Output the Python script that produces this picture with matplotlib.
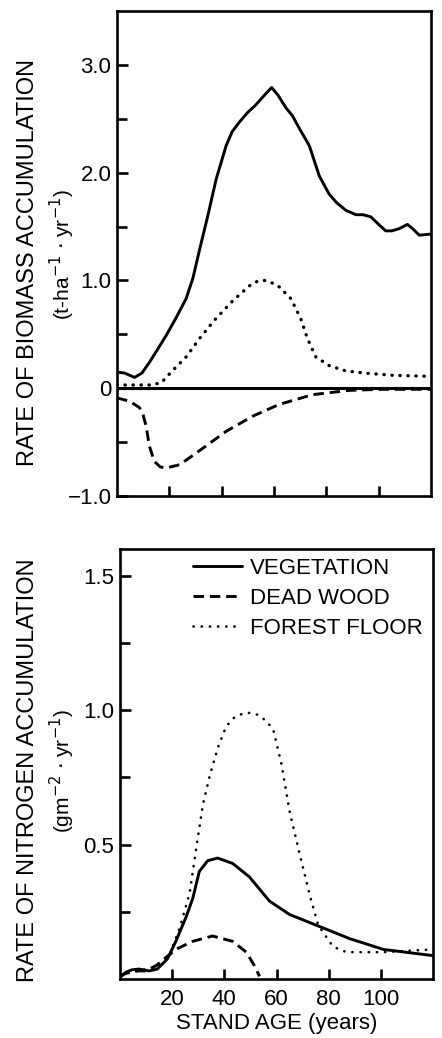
import matplotlib.pyplot as plt
import numpy as np

plt.rcParams['font.family'] = ['Liberation Sans', 'DejaVu Sans']

# biomass accumulation (t/ha/yr)
bio_veg_age = [0, 3, 6.7, 9.5, 12.4, 15.5, 18.8, 22.5, 26.4, 29, 31.5, 34.7, 37.9, 41.7, 44, 46.8,
               50, 53.1, 56, 59.1, 61.5, 64.6, 67, 69.7, 73.5, 77.3, 81.1, 84, 87.5, 91.3, 94, 97,
               100, 102.7, 105, 107.8, 111, 113, 115.5, 120]
bio_veg = [0.15, 0.14, 0.10, 0.14, 0.24, 0.36, 0.49, 0.65, 0.83, 1.02, 1.28, 1.60, 1.94, 2.25, 2.38,
           2.47, 2.56, 2.63, 2.71, 2.79, 2.72, 2.60, 2.53, 2.41, 2.25, 1.97, 1.80, 1.72, 1.65, 1.61,
           1.61, 1.59, 1.52, 1.46, 1.46, 1.48, 1.52, 1.48, 1.42, 1.43]

bio_dw_age = [0, 4.8, 8.6, 10, 11.1, 12.4, 14.3, 16.5, 18.8, 23.9, 31.5, 41.7, 51.8, 62, 74.7, 88.7, 101, 120]
bio_dw = [-0.09, -0.12, -0.18, -0.25, -0.35, -0.54, -0.68, -0.73, -0.74, -0.71, -0.58, -0.40,
          -0.26, -0.15, -0.06, -0.02, -0.01, -0.01]

bio_ff_age = [0, 6, 12.4, 16.9, 20.7, 26.4, 31.5, 37.2, 44.2, 50.6, 53.5, 56.3, 59, 62, 66.5, 70.3,
              72.8, 76, 81.1, 87.5, 95.1, 105.3, 120]
bio_ff = [0.03, 0.03, 0.03, 0.05, 0.15, 0.29, 0.46, 0.63, 0.81, 0.95, 0.99, 1.00, 0.98, 0.94, 0.83,
          0.64, 0.46, 0.29, 0.21, 0.16, 0.14, 0.12, 0.11]

# nitrogen accumulation (g/m2/yr)
n_veg_age = [0, 2.2, 4.5, 7.3, 11.2, 14.3, 18.2, 21.4, 25.3, 27.9, 30.4, 33.6, 37.4, 43.2, 49.6,
             57.3, 65, 75.3, 88.1, 101, 120]
n_veg = [0.006, 0.025, 0.034, 0.037, 0.030, 0.037, 0.075, 0.14, 0.23, 0.30, 0.40, 0.44, 0.45, 0.43,
         0.38, 0.29, 0.24, 0.20, 0.15, 0.11, 0.087]

n_dw_age = [0, 2, 6, 10, 13.9, 17.6, 21.4, 27.8, 35.5, 43.2, 48.4, 51.5, 53.5]
n_dw = [0.01, 0.02, 0.03, 0.03, 0.05, 0.08, 0.11, 0.14, 0.16, 0.14, 0.10, 0.05, 0.01]

n_ff_age = [0, 7.3, 15.2, 19, 22.9, 26.7, 29.9, 31.8, 34.5, 37.5, 40.7, 44, 47.7, 51, 53.5, 56,
            58.7, 61.9, 65.1, 69, 72.8, 76, 81.7, 86.8, 100.9, 120]
n_ff = [0.02, 0.03, 0.05, 0.09, 0.19, 0.32, 0.53, 0.65, 0.76, 0.86, 0.94, 0.975, 0.99, 0.99, 0.98,
        0.96, 0.93, 0.80, 0.62, 0.46, 0.31, 0.20, 0.12, 0.10, 0.10, 0.11]

x_ticks = [20, 40, 60, 80, 100]

fig = plt.figure(figsize=(4.42, 10.38), dpi=100)
ax1 = fig.add_axes([117 / 442, 1 - 496 / 1038, 314 / 442, 485 / 1038])
ax2 = fig.add_axes([120 / 442, 1 - 979 / 1038, 313 / 442, 430 / 1038])

solid = dict(color='black', lw=2.1, solid_capstyle='round', solid_joinstyle='round')
dashed = dict(color='black', lw=2.1, linestyle=(0, (3.6, 2.0)))
dotted = dict(color='black', lw=2.4, linestyle=(0, (0.1, 2.3)), dash_capstyle='round')

ax1.axhline(0, color='black', lw=2.2)
ax1.plot(bio_veg_age, bio_veg, **solid)
ax1.plot(bio_dw_age, bio_dw, **dashed)
ax1.plot(bio_ff_age, bio_ff, **dotted)
ax1.set_xlim(0, 120)
ax1.set_ylim(-1.0, 3.5)
ax1.set_xticks(x_ticks)
ax1.set_xticklabels([])
ax1.set_yticks([-1.0, 0, 1.0, 2.0, 3.0])
ax1.set_yticklabels(['\u22121.0', '0', '1.0', '2.0', '3.0'])
ax1.set_yticks([-0.5, 0.5, 1.5, 2.5], minor=True)

ax2.plot(n_veg_age, n_veg, label='VEGETATION', **solid)
ax2.plot(n_dw_age, n_dw, label='DEAD WOOD', **dashed)
ax2.plot(n_ff_age, n_ff, label='FOREST FLOOR', color='black', lw=1.9,
         linestyle=(0, (0.1, 3.0)), dash_capstyle='round')
ax2.set_xlim(0, 120)
ax2.set_ylim(0, 1.6)
ax2.set_xticks(x_ticks)
ax2.set_yticks([0.5, 1.0, 1.5])
ax2.set_yticks([0.25, 0.75, 1.25], minor=True)
ax2.set_xlabel('STAND AGE (years)', fontsize=16, labelpad=2)

for ax in (ax1, ax2):
    for s in ax.spines.values():
        s.set_linewidth(1.9)
    ax.tick_params(which='both', direction='in', width=1.9, labelsize=16)
    ax.tick_params(which='major', length=8, pad=4)
    ax.tick_params(which='minor', length=7)
    ax.tick_params(axis='x', which='major', length=7, pad=7)

leg = ax2.legend(loc='upper right', bbox_to_anchor=(1.01, 1.01), frameon=False, fontsize=16,
                 handlelength=2.2, handletextpad=0.35, labelspacing=0.4, borderaxespad=0.2)

fig.text(28 / 442, 1 - 262 / 1038, 'RATE OF BIOMASS ACCUMULATION', rotation=90,
         ha='center', va='center', fontsize=17)
fig.text(62 / 442, 1 - 255 / 1038, '(t-ha$^{-1}$ $\\cdot$ yr$^{-1}$)', rotation=90,
         ha='center', va='center', fontsize=15)
fig.text(28 / 442, 1 - 770 / 1038, 'RATE OF NITROGEN ACCUMULATION', rotation=90,
         ha='center', va='center', fontsize=17)
fig.text(62 / 442, 1 - 771 / 1038, '(gm$^{-2}$ $\\cdot$ yr$^{-1}$)', rotation=90,
         ha='center', va='center', fontsize=15)

plt.savefig('out.png', dpi=100)
